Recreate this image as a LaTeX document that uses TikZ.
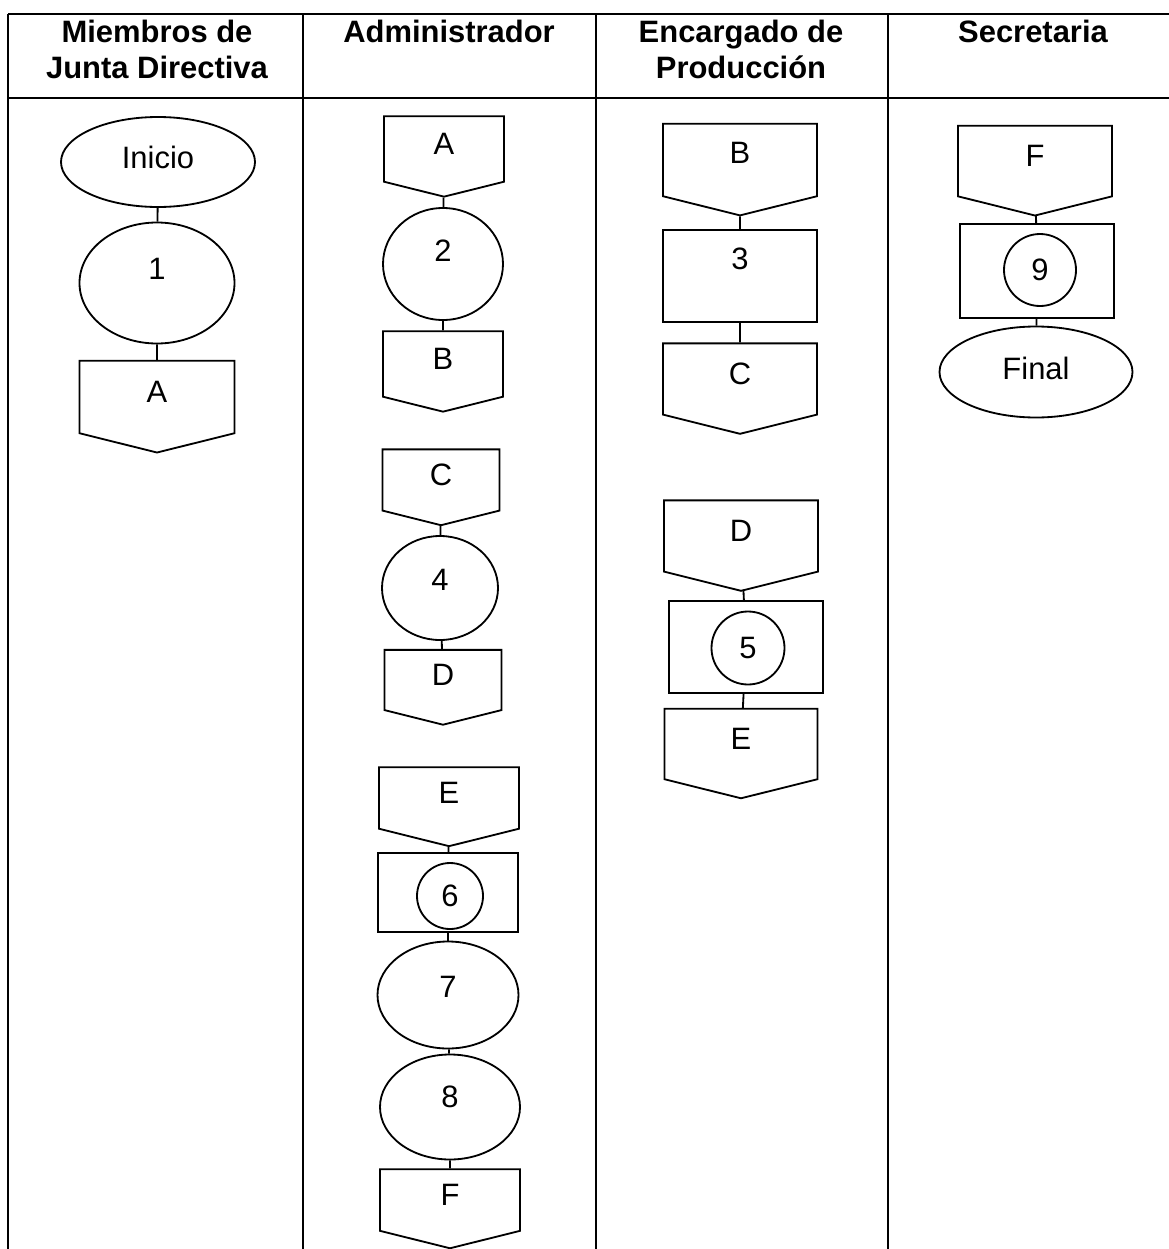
\documentclass[tikz,border=0pt]{standalone}
\usepackage{fontspec}
\setmainfont{Liberation Sans}
\usetikzlibrary{shapes.geometric,shapes.symbols}

\newcommand\pxl{0.025cm}

\tikzset{
  lane/.style={line width=1.1pt},
  lift/.style={text depth=2*#1*\pxl},
  flow/.style={draw, line width=1.3pt, inner sep=0pt, font=\fontsize{22}{26}\selectfont},
  term/.style={flow, ellipse},
  act/.style={flow, ellipse},
  doc/.style={flow, rectangle},
  ring/.style={flow, circle},
  offpage/.style={flow, signal, signal to=south, signal pointer angle=152, lift=5},
  link/.style={line width=1.3pt},
  head/.style={anchor=north, inner sep=0pt, align=center, font=\bfseries\fontsize{22}{25.6}\selectfont}
}

\begin{document}
\begin{tikzpicture}[x=0.025cm, y=-0.025cm]
    \useasboundingbox (0,0) rectangle (1169,1249);

    % table
    \draw[lane] (8,14) -- (1169,14);
    \draw[lane] (8,98) -- (1169,98);
    \foreach \lx in {8,303,596,888}
        \draw[lane] (\lx,14) -- (\lx,1249);

    \node[head] (h1) at (157,20) {Miembros de\\Junta Directiva};
    \node[head] (h2) at (449,20) {Administrador};
    \node[head] (h3) at (741,20) {Encargado de\\Producción};
    \node[head] (h4) at (1033,20) {Secretaria};

    % Miembros de Junta Directiva
    \node[term, lift=5, minimum width=194*\pxl, minimum height=90*\pxl] (ini) at (158,162) {Inicio};
    \node[act, lift=14, minimum width=155*\pxl, minimum height=121*\pxl] (p1) at (157,283) {1};
    \node[offpage, minimum width=155*\pxl, minimum height=75*\pxl] (cA1) at (157,397) {A};
    \draw[link] (ini) -- (p1);
    \draw[link] (p1) -- (cA1);

    % Administrador
    \node[offpage, minimum width=120*\pxl, minimum height=68*\pxl] (cA2) at (444,149) {A};
    \node[act, lift=13, minimum width=120*\pxl, minimum height=112*\pxl] (p2) at (443,264) {2};
    \node[offpage, minimum width=120*\pxl, minimum height=68*\pxl] (cB2) at (443,364) {B};
    \draw[link] (cA2) -- (p2);
    \draw[link] (p2) -- (cB2);

    \node[offpage, minimum width=117*\pxl, minimum height=64*\pxl] (cC2) at (441,480) {C};
    \node[act, lift=8, minimum width=116*\pxl, minimum height=104*\pxl] (p4) at (440,588) {4};
    \node[offpage, minimum width=117*\pxl, minimum height=63*\pxl] (cD2) at (443,680) {D};
    \draw[link] (cC2) -- (p4);
    \draw[link] (p4) -- (cD2);

    \node[offpage, minimum width=140*\pxl, minimum height=64*\pxl] (cE2) at (449,798) {E};
    \node[doc, minimum width=140*\pxl, minimum height=79*\pxl] (b6) at (448,892.5) {};
    \node[ring, minimum size=66*\pxl] (c6) at (450,896) {6};
    \node[act, lift=8, minimum width=141*\pxl, minimum height=107*\pxl] (p7) at (448,995) {7};
    \node[act, lift=10, minimum width=140*\pxl, minimum height=105*\pxl] (p8) at (450,1107) {8};
    \node[offpage, minimum width=140*\pxl, minimum height=64*\pxl] (cF2) at (450,1200) {F};
    \draw[link] (cE2) -- (b6);
    \draw[link] (b6) -- (p7);
    \draw[link] (p7) -- (p8);
    \draw[link] (p8) -- (cF2);

    % Encargado de Produccion
    \node[offpage, lift=7, minimum width=154*\pxl, minimum height=75*\pxl] (cB3) at (740,160) {B};
    \node[doc, lift=17, minimum width=154*\pxl, minimum height=92*\pxl] (b3) at (740,276) {3};
    \node[offpage, minimum width=154*\pxl, minimum height=74*\pxl] (cC3) at (740,379) {C};
    \draw[link] (cB3) -- (b3);
    \draw[link] (b3) -- (cC3);

    \node[offpage, minimum width=154*\pxl, minimum height=74*\pxl] (cD3) at (741,536) {D};
    \node[doc, minimum width=154*\pxl, minimum height=92*\pxl] (b5) at (746,647) {};
    \node[ring, minimum size=73*\pxl] (c5) at (748,648) {5};
    \node[offpage, minimum width=153*\pxl, minimum height=73*\pxl] (cE3) at (741,744) {E};
    \draw[link] (cD3) -- (b5);
    \draw[link] (b5) -- (cE3);

    % Secretaria
    \node[offpage, minimum width=154*\pxl, minimum height=73*\pxl] (cF4) at (1035,161) {F};
    \node[doc, minimum width=154*\pxl, minimum height=94*\pxl] (b9) at (1037,271) {};
    \node[ring, minimum size=72*\pxl] (c9) at (1040,270) {9};
    \node[term, lift=4, minimum width=193*\pxl, minimum height=91*\pxl] (fin) at (1036,372) {Final};
    \draw[link] (cF4) -- (b9);
    \draw[link] (b9) -- (fin);
\end{tikzpicture}
\end{document}
